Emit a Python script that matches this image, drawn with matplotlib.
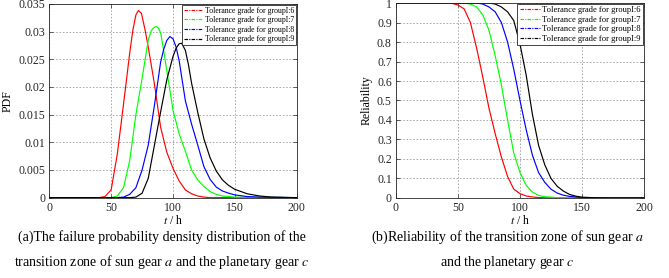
import matplotlib
matplotlib.use("Agg")
import matplotlib.pyplot as plt
from matplotlib.lines import Line2D
from matplotlib.ticker import FuncFormatter

plt.rcParams['font.family'] = ['Liberation Serif', 'DejaVu Serif']
plt.rcParams['mathtext.fontset'] = 'stix'

# Labels for the four tolerance grades
group_labels = ['Tolerance grade for groupI:6', 'Tolerance grade for groupI:7',
                'Tolerance grade for groupI:8', 'Tolerance grade for groupI:9']
group_colors = ['red', '#00ff00', 'blue', 'black']

# (a) failure probability density
pdf_t6 = [0, 40, 45, 50, 55, 60, 65, 67.5, 70, 72, 74.5, 77.5, 80, 85, 90, 95, 100, 105, 110, 115, 120, 125,
          130, 200]
pdf_v6 = [0, 0, 0.0002, 0.0014, 0.0079, 0.0169, 0.0261, 0.0302, 0.0330, 0.0338, 0.0333, 0.0302, 0.0272,
          0.0205, 0.0127, 0.0082, 0.0053, 0.0030, 0.0014, 0.0007, 0.0003, 0.0001, 0, 0]

pdf_t7 = [0, 50, 55, 60, 65, 70, 75, 80, 82.5, 85, 86.5, 88, 90, 92.5, 95, 100, 105, 110, 115, 120, 125, 130,
          135, 140, 150, 200]
pdf_v7 = [0, 0, 0.0003, 0.0018, 0.0067, 0.0150, 0.0215, 0.0285, 0.0302, 0.0308, 0.0309, 0.0307, 0.0298,
          0.0265, 0.0229, 0.0158, 0.0115, 0.0084, 0.0050, 0.0032, 0.0020, 0.0011, 0.0006, 0.0003, 0.0001, 0]

pdf_t8 = [0, 55, 60, 65, 70, 75, 80, 85, 90, 92.5, 95, 97.5, 100, 102.5, 105, 110, 115, 120, 125, 130, 135,
          140, 145, 150, 160, 170, 200]
pdf_v8 = [0, 0, 0.0001, 0.0006, 0.0018, 0.0050, 0.0095, 0.0167, 0.0245, 0.0268, 0.0284, 0.0291, 0.0287,
          0.0272, 0.0247, 0.0175, 0.0133, 0.0095, 0.0056, 0.0033, 0.0019, 0.0012, 0.0008, 0.0005, 0.0002,
          0.0001, 0]

pdf_t9 = [0, 65, 70, 75, 80, 85, 90, 95, 100, 102.5, 105, 107, 110, 112.5, 115, 120, 125, 130, 135, 140, 145,
          150, 160, 170, 180, 200]
pdf_v9 = [0, 0, 0.0001, 0.0008, 0.0035, 0.0095, 0.0155, 0.0213, 0.0255, 0.0270, 0.0278, 0.0279, 0.0266,
          0.0240, 0.0207, 0.0154, 0.0106, 0.0072, 0.0048, 0.0032, 0.0022, 0.0015, 0.0007, 0.0003, 0.0001, 0]

# (b) reliability
rel_t6 = [0, 40, 45, 50, 55, 60, 65, 70, 75, 80, 85, 90, 95, 100, 105, 110, 115, 120, 130, 200]
rel_v6 = [1, 1, 0.999, 0.99, 0.97, 0.90, 0.77, 0.62, 0.46, 0.33, 0.21, 0.11, 0.045, 0.022, 0.010, 0.005,
          0.002, 0.001, 0, 0]

rel_t7 = [0, 55, 60, 65, 70, 75, 80, 85, 90, 95, 100, 105, 110, 115, 120, 130, 140, 200]
rel_v7 = [1, 1, 0.995, 0.98, 0.94, 0.86, 0.73, 0.58, 0.40, 0.23, 0.13, 0.065, 0.03, 0.013, 0.006, 0.002, 0, 0]

rel_t8 = [0, 65, 70, 75, 80, 85, 90, 95, 100, 105, 110, 115, 120, 125, 130, 135, 140, 150, 160, 200]
rel_v8 = [1, 1, 0.995, 0.98, 0.955, 0.90, 0.80, 0.66, 0.50, 0.35, 0.22, 0.13, 0.08, 0.045, 0.025, 0.014,
          0.008, 0.002, 0, 0]

rel_t9 = [0, 75, 80, 85, 90, 95, 100, 105, 110, 115, 120, 125, 130, 135, 140, 145, 150, 160, 170, 200]
rel_v9 = [1, 1, 0.995, 0.98, 0.955, 0.91, 0.79, 0.63, 0.43, 0.27, 0.17, 0.10, 0.06, 0.035, 0.018, 0.009,
          0.004, 0.001, 0, 0]

x_ticks = [0, 50, 100, 150, 200]
pdf_ticks = [0, 0.005, 0.01, 0.015, 0.02, 0.025, 0.03, 0.035]
rel_ticks = [0, 0.1, 0.2, 0.3, 0.4, 0.5, 0.6, 0.7, 0.8, 0.9, 1]


def style_axes(ax, yticks, ylabel):
    ax.set_xlim(0, 200)
    ax.set_ylim(yticks[0], yticks[-1])
    ax.set_xticks(x_ticks)
    ax.set_yticks(yticks)
    ax.yaxis.set_major_formatter(FuncFormatter(lambda v, p: '%g' % v))
    ax.tick_params(direction='in', top=True, right=True, length=3, width=0.5,
                   labelsize=8.5, colors='#262626', pad=3)
    for s in ax.spines.values():
        s.set_linewidth(0.6)
        s.set_color('#262626')
    ax.grid(True, linestyle=(0, (2, 2)), color='#a0a0a0', linewidth=0.6)
    ax.set_xlabel(r'$t$ / h', fontsize=8.5, labelpad=0)
    ax.set_ylabel(ylabel, fontsize=8.5, labelpad=3)


def draw_curves(ax, series, fsize):
    handles = []
    for (t, v), color, label in zip(series, group_colors, group_labels):
        ax.plot(t, v, color=color, linewidth=0.85)
        handles.append(Line2D([], [], color=color, linewidth=0.85, linestyle=(0, (3, 1, 1, 1)), label=label))
    leg = ax.legend(handles=handles, loc='upper right', fontsize=fsize, frameon=True, fancybox=False,
                    borderaxespad=0.1, handlelength=2.4, handletextpad=0.3,
                    labelspacing=0.2, borderpad=0.25, framealpha=1)
    leg.get_frame().set_edgecolor('#262626')
    leg.get_frame().set_linewidth(0.6)


fig = plt.figure(figsize=(6.69, 2.78), dpi=100)

ax1 = fig.add_axes([0.0737, 0.289, 0.3698, 0.697])
draw_curves(ax1, [(pdf_t6, pdf_v6), (pdf_t7, pdf_v7), (pdf_t8, pdf_v8), (pdf_t9, pdf_v9)], 5.6)
style_axes(ax1, pdf_ticks, 'PDF')

ax2 = fig.add_axes([0.5919, 0.288, 0.3707, 0.701])
draw_curves(ax2, [(rel_t6, rel_v6), (rel_t7, rel_v7), (rel_t8, rel_v8), (rel_t9, rel_v9)], 6.1)
style_axes(ax2, rel_ticks, 'Reliability')

# captions under each panel
fig.text(0.242, 0.146, '(a)The failure probability density distribution of the',
         ha='center', va='center', fontsize=10)
fig.text(0.242, 0.056, r'transition zone of sun gear $a$ and the planetary gear $c$',
         ha='center', va='center', fontsize=10)
fig.text(0.758, 0.146, r'(b)Reliability of the transition zone of sun gear $a$',
         ha='center', va='center', fontsize=10)
fig.text(0.758, 0.056, r'and the planetary gear $c$',
         ha='center', va='center', fontsize=10)

fig.savefig('out.png', dpi=100)
